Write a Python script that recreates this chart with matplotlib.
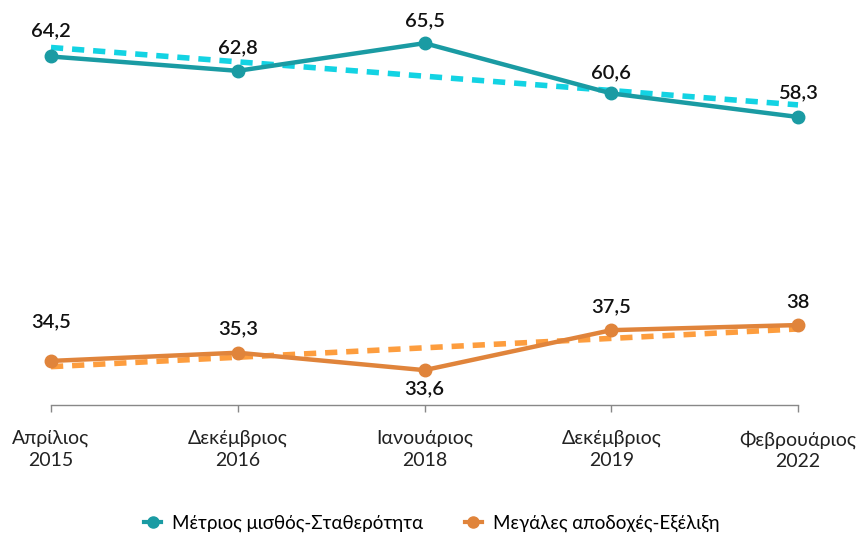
import numpy as np
import matplotlib.pyplot as plt
from matplotlib.lines import Line2D

plt.rcParams['font.family'] = ['Lato', 'DejaVu Sans']

periods = ['Απρίλιος\n2015', 'Δεκέμβριος\n2016', 'Ιανουάριος\n2018',
           'Δεκέμβριος\n2019', 'Φεβρουάριος\n2022']
stability = [64.2, 62.8, 65.5, 60.6, 58.3]
earnings = [34.5, 35.3, 33.6, 37.5, 38]
stability_labels = ['64,2', '62,8', '65,5', '60,6', '58,3']
earnings_labels = ['34,5', '35,3', '33,6', '37,5', '38']
names = ['Μέτριος μισθός-Σταθερότητα', 'Μεγάλες αποδοχές-Εξέλιξη']

teal = '#1a9ba3'
teal_trend = '#13d3e3'
orange = '#e0843b'
orange_trend = '#fd9d3e'

x = np.arange(len(periods))

fig = plt.figure(figsize=(8.64, 5.38), dpi=100)
ax = fig.add_axes([51 / 864, 133 / 538, 747 / 864, 410 / 538])

# linear trendlines
for vals, c in [(stability, teal_trend), (earnings, orange_trend)]:
    k, b = np.polyfit(x, vals, 1)
    ax.plot(x, k * x + b, color=c, lw=4, ls=(0, (2.2, 1.6)), zorder=2, clip_on=False)

ax.plot(x, stability, color=teal, lw=3.2, marker='o', ms=9, zorder=3, clip_on=False)
ax.plot(x, earnings, color=orange, lw=3.2, marker='o', ms=9, zorder=3, clip_on=False)

# label offsets in pixels (style only)
off_s = [26, 23, 22, 21, 24]
off_e = [39, 24, -19, 23, 23]
for i in range(len(x)):
    ax.annotate(stability_labels[i], (x[i], stability[i]), xytext=(0, off_s[i]),
                textcoords='offset pixels', ha='center', va='center',
                fontsize=14.5, fontweight='semibold', color='#111111')
    ax.annotate(earnings_labels[i], (x[i], earnings[i]), xytext=(0, off_e[i]),
                textcoords='offset pixels', ha='center', va='center',
                fontsize=14.5, fontweight='semibold', color='#111111')

ax.set_xlim(0, 4)
ax.set_ylim(30.2, 70.2)
ax.set_yticks([])
for s in ['top', 'right', 'left']:
    ax.spines[s].set_visible(False)
ax.spines['bottom'].set_color('#888888')
ax.spines['bottom'].set_linewidth(1)
ax.set_xticks(x)
ax.set_xticklabels(periods, fontsize=14, fontweight='normal', color='#222222',
                   linespacing=1.3)
ax.tick_params(axis='x', length=5, color='#888888', width=1, pad=13)

handles = [Line2D([0], [0], color=teal, lw=3, marker='o', ms=8),
           Line2D([0], [0], color=orange, lw=3, marker='o', ms=8)]
fig.legend(handles, names, loc='center', bbox_to_anchor=(0.5, 1 - 523 / 538),
           ncol=2, frameon=False, fontsize=13.5, handlelength=0.9,
           columnspacing=2.2, handletextpad=0.6)

fig.savefig('out.png', dpi=100)
